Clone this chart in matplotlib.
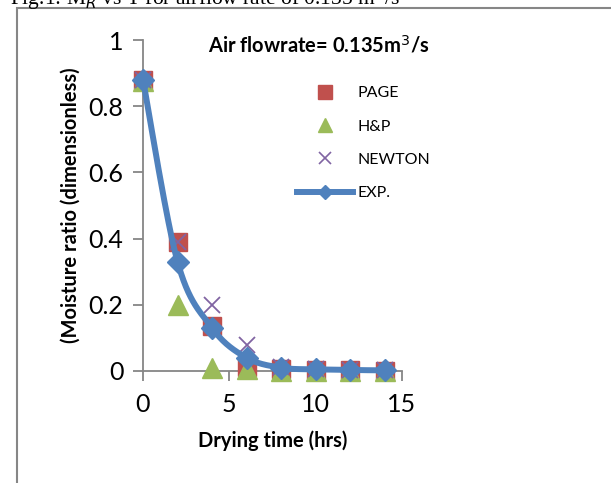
import numpy as np
import matplotlib.pyplot as plt
from matplotlib.lines import Line2D
from matplotlib.patches import Rectangle

# Data
time_hrs = [0, 2, 4, 6, 8, 10, 12, 14]
page = [0.88, 0.39, 0.135, 0.012, 0.005, 0.003, 0.002, 0.001]
hp = [0.875, 0.20, 0.01, 0.005, 0.0, 0.0, 0.0, 0.0]
newton = [0.88, 0.39, 0.20, 0.08, 0.012, 0.005, 0.003, 0.002]
exp_mr = [0.88, 0.33, 0.13, 0.04, 0.01, 0.005, 0.003, 0.002]

RED = '#C0504D'
GREEN = '#9BBB59'
PURPLE = '#8064A2'
BLUE = '#4F81BD'
GRAY = '#868686'
FONT = 'Lato'


def smooth_path(x, y, n=30):
    # Catmull-Rom curve through the points (like Excel's smoothed line)
    x = np.asarray(x, float)
    y = np.asarray(y, float)
    px = np.concatenate([[x[0]], x, [x[-1]]])
    py = np.concatenate([[y[0]], y, [y[-1]]])
    xs, ys = [], []
    for i in range(1, len(px) - 2):
        t = np.linspace(0, 1, n)
        for arr, out in ((px, xs), (py, ys)):
            p0, p1, p2, p3 = arr[i - 1], arr[i], arr[i + 1], arr[i + 2]
            out.extend(0.5 * (2 * p1 + (-p0 + p2) * t
                              + (2 * p0 - 5 * p1 + 4 * p2 - p3) * t ** 2
                              + (-p0 + 3 * p1 - 3 * p2 + p3) * t ** 3))
    return np.array(xs), np.array(ys)


fig = plt.figure(figsize=(6.11, 4.83), dpi=100)

# Caption cut off at the top of the picture
fig.text(10 / 611, 1 + 2 / 483, 'Fig.1: M$_R$ vs T for airflow rate of 0.135 m$^3$/s',
         family='Liberation Serif', fontsize=15.5, va='center', ha='left')

# Chart frame
fig.patches.append(Rectangle((17 / 611, -0.1), 1.2, 1.1 - 8 / 483,
                             transform=fig.transFigure, fill=False,
                             edgecolor=GRAY, linewidth=1.5))

ax = fig.add_axes([143 / 611, 1 - 371 / 483, (402 - 143) / 611, (371 - 40) / 483])

ax.plot(time_hrs, page, 's', color=RED, markersize=13, zorder=3)
ax.plot(time_hrs, hp, '^', color=GREEN, markersize=14, zorder=4)
ax.plot(time_hrs, newton, 'x', color=PURPLE, markersize=12, markeredgewidth=1.3, zorder=5)
sx, sy = smooth_path(time_hrs, exp_mr)
ax.plot(sx, sy, '-', color=BLUE, linewidth=4.3, solid_capstyle='round', zorder=6)
ax.plot(time_hrs, exp_mr, 'D', color=BLUE, markersize=11, zorder=7)

ax.set_xlim(0, 15)
ax.set_ylim(0, 1)
ax.set_xticks([0, 5, 10, 15])
ax.set_yticks([0, 0.2, 0.4, 0.6, 0.8, 1])
ax.set_yticklabels(['0', '0.2', '0.4', '0.6', '0.8', '1'])
for s in ['top', 'right']:
    ax.spines[s].set_visible(False)
for s in ['left', 'bottom']:
    ax.spines[s].set_color(GRAY)
    ax.spines[s].set_linewidth(1.3)
ax.tick_params(colors=GRAY, length=7, width=1.3, labelcolor='black',
               labelsize=18)
ax.tick_params(axis='x', pad=9)
ax.tick_params(axis='y', pad=7)
for lab in ax.get_xticklabels() + ax.get_yticklabels():
    lab.set_family(FONT)
for c in ax.get_children():
    if isinstance(c, Line2D):
        c.set_clip_on(False)

ax.set_xlabel('Drying time (hrs)', family=FONT, fontsize=14.5,
              fontweight='bold', labelpad=10)
ax.set_ylabel('(Moisture ratio (dimensionless)', family=FONT, fontsize=14.5,
              fontweight='bold', labelpad=6)
ax.text(0.68, 0.985, 'Air flowrate= 0.135m$^3$/s', transform=ax.transAxes,
        family=FONT, fontsize=14.5, fontweight='bold', ha='center', va='center')

handles = [
    Line2D([], [], linestyle='none', marker='s', color=RED, markersize=10),
    Line2D([], [], linestyle='none', marker='^', color=GREEN, markersize=10),
    Line2D([], [], linestyle='none', marker='x', color=PURPLE, markersize=9,
           markeredgewidth=1.2),
    Line2D([], [], linestyle='-', marker='D', color=BLUE, linewidth=4.3,
           markersize=7),
]
fig.legend(handles, ['PAGE', 'H&P', 'NEWTON', 'EXP.'], loc='upper left',
           bbox_to_anchor=(297 / 611, 1 - 86 / 483), frameon=False,
           prop={'family': FONT, 'size': 11.5}, handlelength=3.5,
           handletextpad=0.3, labelspacing=1.2, borderpad=0, borderaxespad=0)

fig.savefig('out.png', dpi=100)
